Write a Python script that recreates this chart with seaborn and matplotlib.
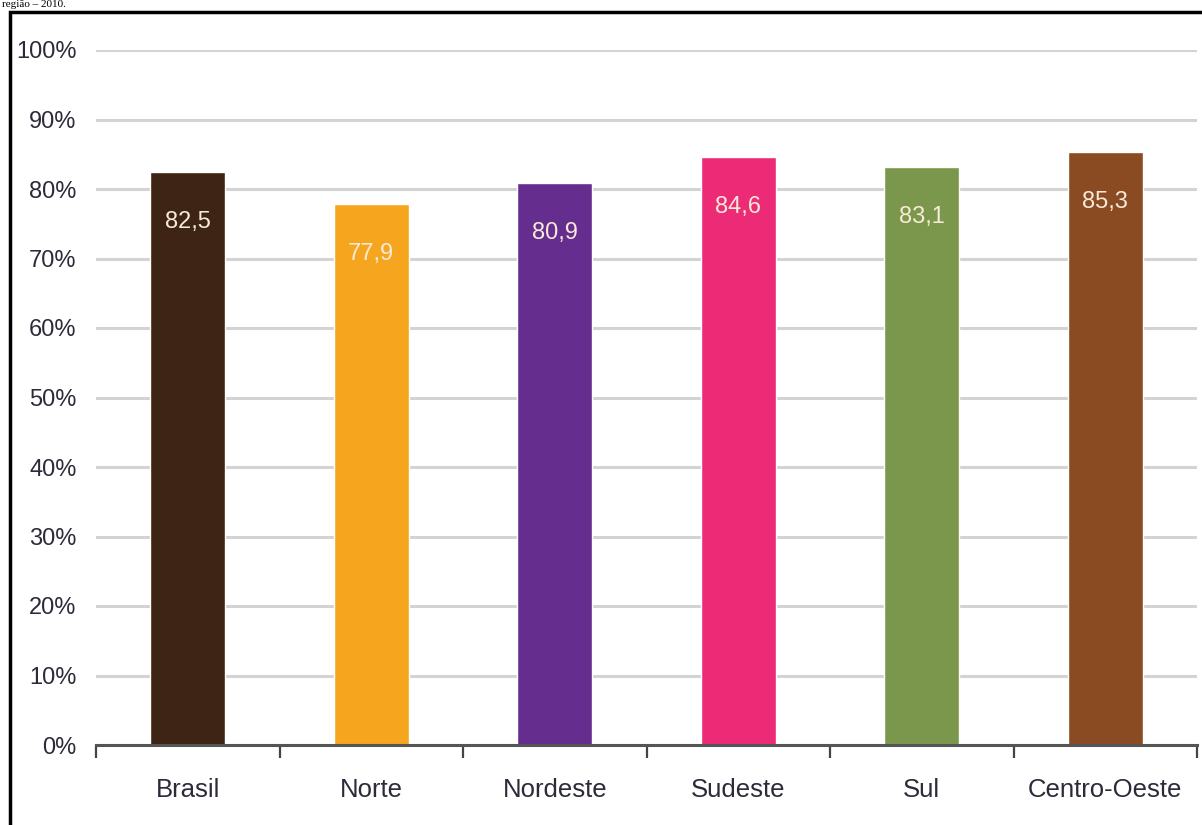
import matplotlib
matplotlib.use("Agg")
import matplotlib.pyplot as plt
import matplotlib.patches as mpatches
import seaborn as sns
import pandas as pd
import numpy as np

categories = ["Brasil", "Norte", "Nordeste", "Sudeste", "Sul", "Centro-Oeste"]
values = [82.5, 77.9, 80.9, 84.6, 83.1, 85.3]
labels = ["82,5", "77,9", "80,9", "84,6", "83,1", "85,3"]
colors = ["#3d2415", "#f6a61e", "#652d8e", "#ec2a76", "#7b974b", "#8a4a22"]
yticks = [0, 10, 20, 30, 40, 50, 60, 70, 80, 90, 100]
ytick_labels = [f"{t}%" for t in yticks]

sns.set_theme(style="white")
fam = ["Liberation Sans", "DejaVu Sans"]
plt.rcParams["font.family"] = fam

df = pd.DataFrame({"regiao": categories, "valor": values})

fig = plt.figure(figsize=(12.02, 8.25), dpi=100)
ax = fig.add_axes([96 / 1202, 1 - 745 / 825, (1197 - 96) / 1202, (745 - 50) / 825])

sns.barplot(data=df, x="regiao", y="valor", hue="regiao", palette=colors,
            order=categories, hue_order=categories, width=0.41, legend=False,
            saturation=1, ax=ax, zorder=3)

ax.set_ylim(0, 100)
ax.set_xlim(-0.5, len(categories) - 0.5)
ax.set_yticks(yticks)
ax.set_yticklabels(ytick_labels, fontsize=17, color="#2b2b3a")
ax.yaxis.grid(True, color="#d3d3d3", linewidth=2.2, zorder=0)
ax.xaxis.grid(False)
ax.set_xlabel("")
ax.set_ylabel("")
ax.tick_params(axis="y", length=0, pad=14)
ax.set_xticks(range(len(categories)))
ax.set_xticklabels(categories, fontsize=18.5, color="#2b2b3a")
ax.tick_params(axis="x", which="major", length=0, pad=24)
ax.set_xticks(np.arange(-0.5, len(categories), 1.0), minor=True)
ax.tick_params(axis="x", which="minor", length=9, width=1.6, color="#444444",
               direction="out", bottom=True)
for s in ["top", "right", "left"]:
    ax.spines[s].set_visible(False)
ax.spines["bottom"].set_color("#555555")
ax.spines["bottom"].set_linewidth(2.2)
ax.spines["bottom"].set_zorder(4)

for i, (v, lab) in enumerate(zip(values, labels)):
    ax.annotate(lab, xy=(i, v), xytext=(0, -36), textcoords="offset points",
                ha="center", va="center", fontsize=17, color="#f7ead8", zorder=5)

# frame of the original document
fig.patches.append(mpatches.Rectangle((10 / 1202, -0.05), 1.2, 1 - 12 / 825 + 0.05,
                                      transform=fig.transFigure, fill=False,
                                      edgecolor="black", linewidth=2.5))
fig.text(0.002, 1.0, "região – 2010.", ha="left", va="top",
         fontsize=8, family=["Liberation Serif", "DejaVu Serif"], color="black")

fig.savefig("out.png", dpi=100)
